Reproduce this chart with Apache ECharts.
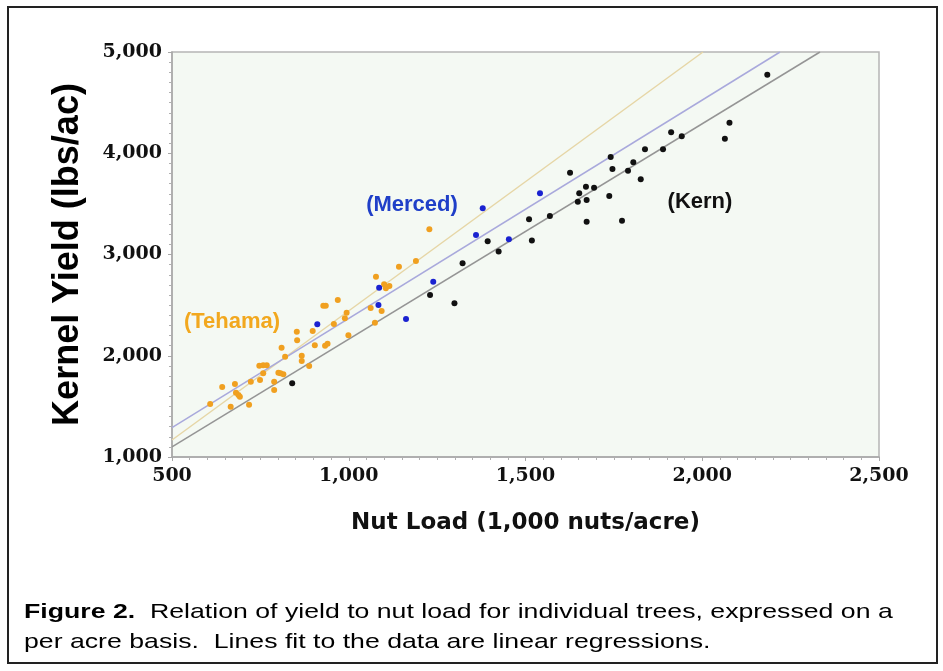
<!DOCTYPE html>
<html>
<head>
<meta charset="utf-8">
<script src="https://cdn.jsdelivr.net/npm/echarts@6/dist/echarts.min.js"></script>
<style>
html, body { margin: 0; padding: 0; background: #fff; }
#chart { width: 943px; height: 671px; }
</style>
</head>
<body>
<div id="chart"></div>
<script>
// nut load (1,000 nuts/acre) vs kernel yield (lbs/ac)
var tehama = [
	[608,1523],[642,1691],[666,1497],[678,1721],[681,1635],[688,1612],[692,1596],
	[718,1517],[723,1744],[747,1902],[758,1906],[768,1906],[749,1760],[758,1827],
	[789,1744],[789,1662],[801,1833],[807,1827],[815,1817],[810,2080],[820,1991],
	[853,2238],[854,2153],[867,2001],[867,1948],[888,1899],[898,2244],[904,2103],
	[933,2099],[940,2119],[928,2494],[935,2494],[958,2314],[969,2551],[989,2370],
	[994,2425],[999,2202],[1062,2472],[1074,2327],[1077,2781],[1093,2442],
	[1100,2706],[1105,2666],[1115,2689],[1142,2880],[1190,2936],[1228,3249]
];
var merced = [
	[911,2311],[1084,2501],[1086,2672],[1162,2363],[1239,2731],
	[1360,3193],[1379,3456],[1453,3150],[1541,3604]
];
var kern = [
	[840,1728],[1230,2600],[1299,2518],[1322,2913],[1393,3130],[1424,3030],
	[1510,3348],[1518,3138],[1569,3380],[1626,3808],[1652,3604],[1671,3670],
	[1694,3660],[1648,3522],[1673,3538],[1673,3324],[1737,3578],[1741,3963],
	[1746,3844],[1773,3334],[1790,3828],[1805,3911],[1826,3743],[1838,4039],
	[1889,4039],[1912,4207],[1942,4167],[2064,4144],[2077,4302],[2184,4776]
];

// regression lines, end points
var tehamaFit = [[500,1168],[2002,5000]];
var mercedFit = [[500,1290],[2220,5000]];
var kernFit = [[500,1100],[2333,5000]];

var xRange = [500, 2500];
var yRange = [1000, 5000];

var caption = '{b|Figure 2.}{n|  Relation of yield to nut load for individual trees, expressed on a}\n' +
	'{n|per acre basis.  Lines fit to the data are linear regressions.}';

function fmt(v) {
	return v.toLocaleString('en-US');
}

var myChart = echarts.init(document.getElementById('chart'));

myChart.setOption({
	animation: false,
	grid: {
		left: 172,
		right: 64,
		top: 52,
		bottom: 214,
		show: true,
		backgroundColor: '#f4f9f3',
		borderColor: '#b5b5b5',
		borderWidth: 1.5
	},
	xAxis: {
		type: 'value',
		min: xRange[0],
		max: xRange[1],
		interval: 500,
		name: 'Nut Load (1,000 nuts/acre)',
		nameLocation: 'middle',
		nameGap: 55,
		nameTextStyle: { fontFamily: 'DejaVu Sans', fontWeight: 'bold', fontSize: 23, color: '#111' },
		axisLine: { lineStyle: { color: '#a8a8a8', width: 1.5 } },
		axisTick: { show: true, length: 4, lineStyle: { color: '#a8a8a8' } },
		minorTick: { show: true, splitNumber: 10, length: 3, lineStyle: { color: '#b0b0b0' } },
		splitLine: { show: false },
		axisLabel: {
			formatter: fmt,
			margin: 10,
			fontFamily: 'DejaVu Serif',
			fontWeight: 'bold',
			fontSize: 19,
			color: '#111'
		}
	},
	yAxis: {
		type: 'value',
		min: yRange[0],
		max: yRange[1],
		interval: 1000,
		name: 'Kernel Yield (lbs/ac)',
		nameLocation: 'middle',
		nameGap: 86,
		nameTextStyle: { fontFamily: 'Liberation Sans', fontWeight: 'bold', fontSize: 36, color: '#000' },
		axisLine: { show: true, lineStyle: { color: '#a8a8a8', width: 1.5 } },
		axisTick: { show: true, length: 4, lineStyle: { color: '#a8a8a8' } },
		minorTick: { show: true, splitNumber: 10, length: 3, lineStyle: { color: '#b0b0b0' } },
		splitLine: { show: false },
		axisLabel: {
			formatter: fmt,
			margin: 10,
			fontFamily: 'DejaVu Serif',
			fontWeight: 'bold',
			fontSize: 19,
			color: '#111'
		}
	},
	graphic: [
		{
			type: 'rect',
			shape: { x: 8, y: 7, width: 929, height: 656 },
			style: { fill: null, stroke: '#222', lineWidth: 2 }
		},
		{
			// caption is drawn a little wide, like the source figure
			type: 'text', x: 24, y: 597, scaleX: 1.27,
			style: {
				text: caption,
				rich: {
					b: { fontFamily: 'Liberation Sans', fontSize: 21, fontWeight: 'bold', fill: '#000', lineHeight: 30 },
					n: { fontFamily: 'Liberation Sans', fontSize: 21, fontWeight: 'normal', fill: '#000', lineHeight: 30 }
				}
			}
		},
		{
			type: 'text', x: 412, y: 205,
			style: { text: '(Merced)', fill: '#1f3fc8', font: 'bold 22px "Liberation Sans"', align: 'center', verticalAlign: 'middle' }
		},
		{
			type: 'text', x: 232, y: 322,
			style: { text: '(Tehama)', fill: '#f2a81e', font: 'bold 22px "Liberation Sans"', align: 'center', verticalAlign: 'middle' }
		},
		{
			type: 'text', x: 700, y: 202,
			style: { text: '(Kern)', fill: '#111', font: 'bold 22px "Liberation Sans"', align: 'center', verticalAlign: 'middle' }
		}
	],
	series: [
		{
			name: 'Tehama fit', type: 'line', data: tehamaFit, showSymbol: false, z: 1,
			lineStyle: { color: '#e6d6a6', width: 1.5 }
		},
		{
			name: 'Merced fit', type: 'line', data: mercedFit, showSymbol: false, z: 1,
			lineStyle: { color: '#a9a9dc', width: 1.5 }
		},
		{
			name: 'Kern fit', type: 'line', data: kernFit, showSymbol: false, z: 1,
			lineStyle: { color: '#959595', width: 1.5 }
		},
		{
			name: 'Tehama', type: 'scatter', data: tehama, symbolSize: 6, z: 3,
			itemStyle: { color: '#f0a020', opacity: 1 }
		},
		{
			name: 'Merced', type: 'scatter', data: merced, symbolSize: 6, z: 3,
			itemStyle: { color: '#1a22d0', opacity: 1 }
		},
		{
			name: 'Kern', type: 'scatter', data: kern, symbolSize: 6, z: 3,
			itemStyle: { color: '#111', opacity: 1 }
		}
	]
});
</script>
</body>
</html>
